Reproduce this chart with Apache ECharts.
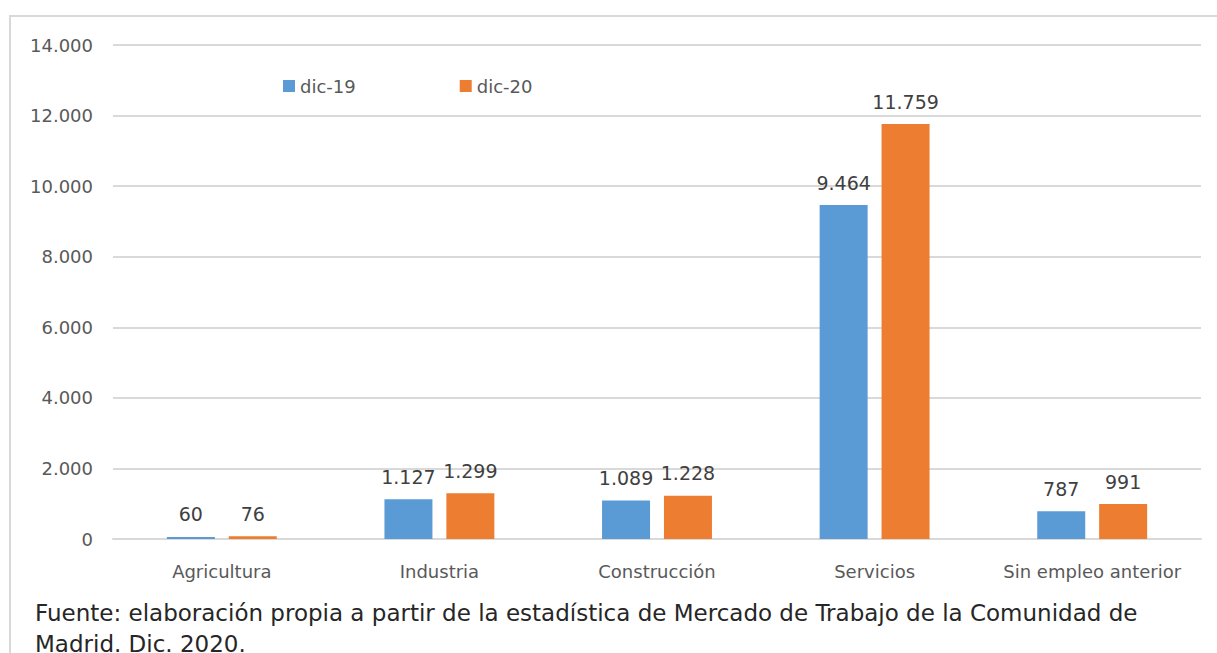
<!DOCTYPE html>
<html>
<head>
<meta charset="utf-8">
<script src="https://cdn.jsdelivr.net/npm/echarts@6/dist/echarts.min.js"></script>
<style>
  html, body { margin: 0; padding: 0; background: #fff; }
  #chart { width: 1217px; height: 653px; }
</style>
</head>
<body>
<div id="chart"></div>
<script>
var categories = ['Agricultura', 'Industria', 'Construcción', 'Servicios', 'Sin empleo anterior'];
var dic19 = [60, 1127, 1089, 9464, 787];
var dic20 = [76, 1299, 1228, 11759, 991];
var seriesNames = ['dic-19', 'dic-20'];
var footerLines = [
  'Fuente: elaboración propia a partir de la estadística de Mercado de Trabajo de la Comunidad de',
  'Madrid. Dic. 2020.'
];

var blue = '#5b9bd5';
var orange = '#ed7d31';
var grid = '#d9d9d9';
var font = '"DejaVu Sans", sans-serif';

function fmt(v) {
  return String(v).replace(/\B(?=(\d{3})+(?!\d))/g, '.');
}

var chart = echarts.init(document.getElementById('chart'), null, { renderer: 'svg' });
chart.setOption({
  animation: false,
  textStyle: { fontFamily: font },
  grid: { left: 113, right: 16, top: 45, bottom: 114 },
  legend: {
    data: seriesNames,
    left: 278,
    top: 72,
    itemWidth: 12,
    itemHeight: 12,
    itemGap: 104,
    icon: 'rect',
    textStyle: { color: '#595959', fontSize: 18, fontFamily: font }
  },
  xAxis: {
    type: 'category',
    data: categories,
    axisLine: { lineStyle: { color: grid, width: 2 } },
    axisTick: { show: false },
    axisLabel: { color: '#595959', fontSize: 18, margin: 23, interval: 0 }
  },
  yAxis: {
    type: 'value',
    min: 0,
    max: 14000,
    interval: 2000,
    axisLine: { show: false },
    axisTick: { show: false },
    axisLabel: { color: '#595959', fontSize: 18, margin: 20, formatter: fmt },
    splitLine: { lineStyle: { color: grid, width: 2 } }
  },
  series: [
    {
      name: seriesNames[0],
      type: 'bar',
      data: dic19,
      barWidth: 48,
      barGap: '29%',
      itemStyle: { color: blue },
      label: {
        show: true, position: 'top', distance: 13,
        color: '#404040', fontSize: 19,
        formatter: function(p) { return fmt(p.value); }
      }
    },
    {
      name: seriesNames[1],
      type: 'bar',
      data: dic20,
      barWidth: 48,
      itemStyle: { color: orange },
      label: {
        show: true, position: 'top', distance: 13,
        color: '#404040', fontSize: 19,
        formatter: function(p) { return fmt(p.value); }
      }
    }
  ],
  graphic: [
    {
      type: 'rect',
      shape: { x: 10, y: 16, width: 1230, height: 660 },
      style: { fill: 'none', stroke: grid, lineWidth: 2 },
      silent: true
    },
    {
      type: 'text',
      left: 35,
      top: 597,
      style: {
        text: footerLines.join('\n'),
        fill: '#262626',
        fontSize: 23,
        lineHeight: 31,
        fontFamily: '"DejaVu Sans", sans-serif'
      }
    }
  ]
});
window.addEventListener('resize', function() { chart.resize(); });
</script>
</body>
</html>
